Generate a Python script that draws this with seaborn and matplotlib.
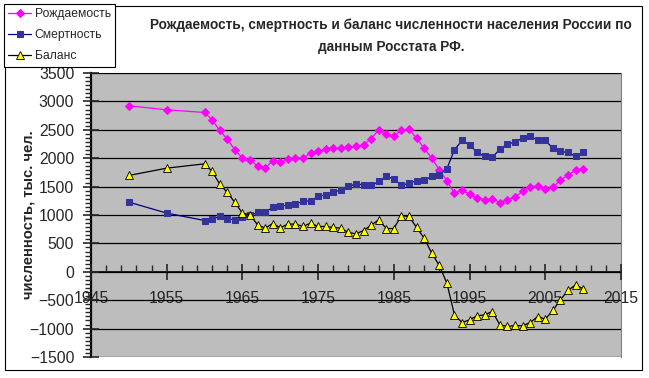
import matplotlib
matplotlib.use('Agg')
import matplotlib.pyplot as plt
import seaborn as sns
import pandas as pd
from matplotlib.ticker import MultipleLocator, AutoMinorLocator
from matplotlib.patches import Rectangle

# --- data (thousand people) ---
years = [1950, 1955] + list(range(1960, 2011))

births = [2923, 2852, 2805, 2676, 2488, 2336, 2148, 2001, 1972, 1866,
          1825, 1954, 1925, 1984, 2001, 2001, 2089, 2118, 2160, 2171,
          2183, 2189, 2207, 2236, 2342, 2500, 2424, 2394, 2488, 2512,
          2353, 2177, 2001, 1796, 1602, 1385, 1432, 1373, 1297, 1268,
          1285, 1220, 1268, 1315, 1414, 1491, 1514, 1456, 1491, 1608,
          1708, 1784, 1808]

deaths = [1227, 1033, 903, 927, 974, 933, 915, 963, 992, 1045,
          1051, 1133, 1150, 1180, 1197, 1238, 1250, 1326, 1356, 1397,
          1444, 1502, 1549, 1532, 1520, 1590, 1678, 1637, 1520, 1561,
          1602, 1608, 1678, 1708, 1813, 2148, 2312, 2236, 2101, 2031,
          2013, 2160, 2248, 2283, 2353, 2394, 2312, 2312, 2177, 2118,
          2101, 2031, 2101]

balance = [1696, 1825, 1901, 1766, 1544, 1397, 1221, 1033, 1004, 827,
           769, 850, 775, 840, 840, 798, 857, 798, 798, 780,
           768, 692, 669, 727, 822, 915, 762, 762, 991, 974,
           780, 593, 329, 111, -199, -757, -893, -845, -775, -757,
           -699, -933, -963, -945, -951, -893, -787, -833, -681, -493,
           -329, -229, -299]

labels = ['Рождаемость', 'Смертность', 'Баланс']
title = ('Рождаемость, смертность и баланс численности населения России по\n'
         'данным Росстата РФ.')
ylabel = 'численность, тыс. чел.'

df = pd.DataFrame({'year': years, 'births': births,
                   'deaths': deaths, 'balance': balance})

sns.set_style('white')
plt.rcParams['font.family'] = ['Liberation Sans', 'DejaVu Sans']

fig = plt.figure(figsize=(6.49, 3.78), dpi=100)
ax = fig.add_axes([91 / 649, 1 - 357 / 378, 530 / 649, 284 / 378])
ax.set_facecolor('#bdbdbd')

sns.lineplot(data=df, x='year', y='births', ax=ax, color='#ff00ff', lw=0.9,
             marker='D', markersize=4, markerfacecolor='#ff00ff',
             markeredgecolor='#ff00ff', label=labels[0], zorder=3)
sns.lineplot(data=df, x='year', y='deaths', ax=ax, color='#000080', lw=0.9,
             marker='s', markersize=5, markerfacecolor='#333399',
             markeredgecolor='#333399', label=labels[1], zorder=3)
sns.lineplot(data=df, x='year', y='balance', ax=ax, color='black', lw=0.9,
             marker='^', markersize=5.5, markerfacecolor='#ffff00',
             markeredgecolor='black', markeredgewidth=0.6,
             label=labels[2], zorder=3)

ax.set_xlim(1945, 2015)
ax.set_ylim(-1500, 3500)
ax.xaxis.set_major_locator(MultipleLocator(10, offset=5))
ax.xaxis.set_minor_locator(MultipleLocator(2, offset=1))
ax.yaxis.set_major_locator(MultipleLocator(500))
ax.yaxis.set_minor_locator(AutoMinorLocator(7))

ax.yaxis.grid(True, color='black', lw=0.9, zorder=1)
ax.set_axisbelow(False)
for gl in ax.get_ygridlines():
    gl.set_zorder(1)

ax.spines['bottom'].set_position(('data', 0))
ax.spines['bottom'].set_color('black')
ax.spines['bottom'].set_linewidth(1.2)
ax.spines['left'].set_color('black')
ax.spines['left'].set_linewidth(1.6)
for s in ['top', 'right']:
    ax.spines[s].set_color('#808080')
    ax.spines[s].set_linewidth(0.8)

ax.tick_params(axis='x', which='major', direction='inout', length=11, width=1.2,
               pad=8, labelsize=11.3, bottom=True)
ax.tick_params(axis='x', which='minor', direction='in', length=5, width=1,
               bottom=True)
ax.tick_params(axis='y', which='major', direction='inout', length=12, width=1.2,
               pad=6, labelsize=11.3, left=True)
ax.tick_params(axis='y', which='minor', direction='out', length=4, width=1,
               left=True)

ax.set_xlabel('')
ax.set_ylabel(ylabel, fontsize=10.6, fontweight='bold')
ax.yaxis.set_label_coords(-0.105, 0.5)

ax.get_legend().remove()
handles = ax.get_lines()[:3]
leg = fig.legend(handles, labels, loc='upper left',
                 bbox_to_anchor=(4 / 649, 1 - 4 / 378), borderaxespad=0,
                 fontsize=8.7, frameon=True, fancybox=False, framealpha=1,
                 edgecolor='black', handlelength=1.9, handletextpad=0.3,
                 labelspacing=0.75, borderpad=0.35)
leg.get_frame().set_linewidth(0.8)

fig.text(391 / 649, 1 - 36 / 378, title, ha='center', va='center',
         fontsize=9.8, fontweight='bold', linespacing=1.8)

fig.patches.append(Rectangle((5 / 649, 1 - 370 / 378), 637 / 649, 364 / 378,
                             transform=fig.transFigure, fill=False,
                             edgecolor='black', lw=0.8))

fig.savefig('out.png', dpi=100)
